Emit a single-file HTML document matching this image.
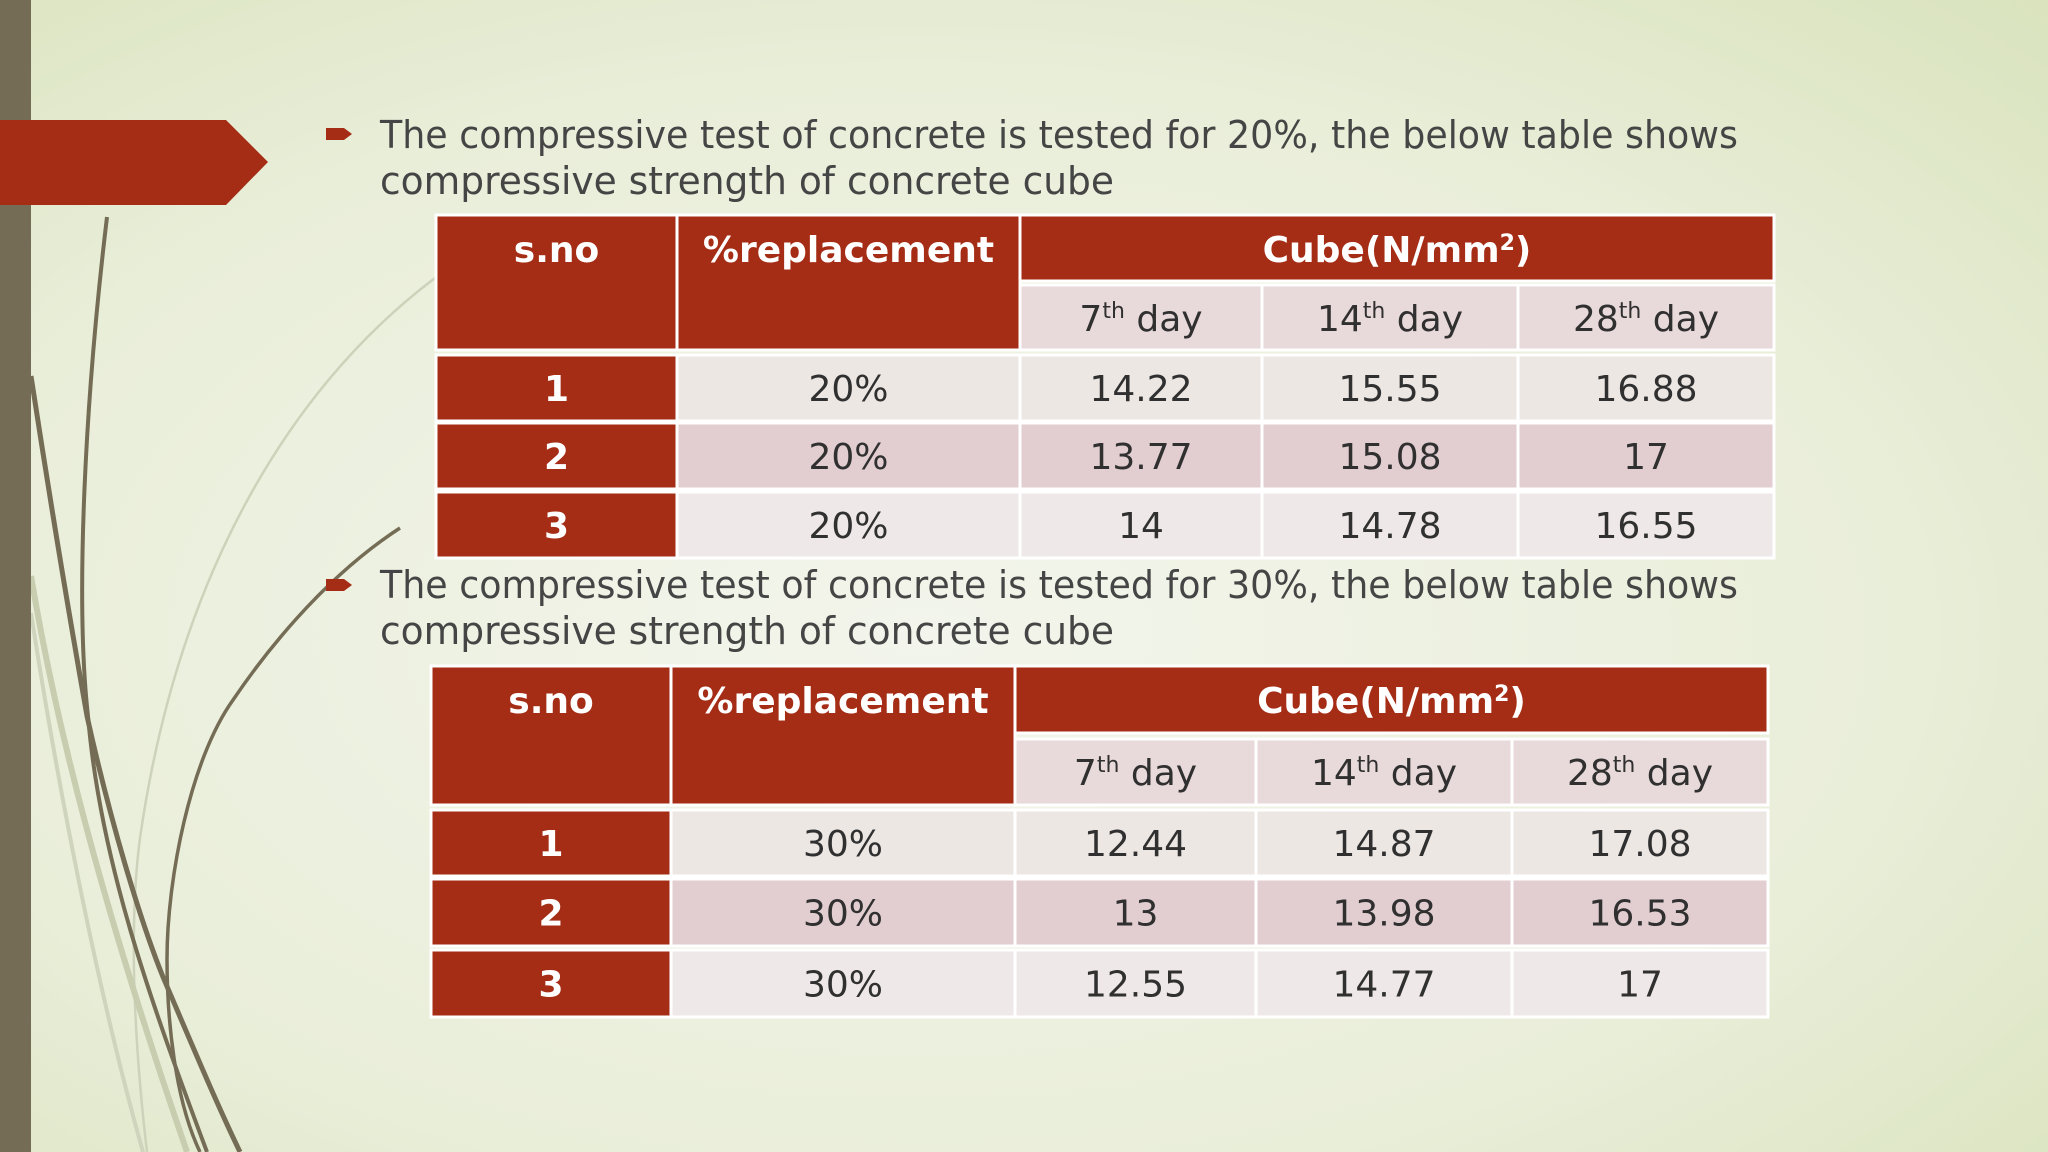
<!DOCTYPE html>
<html><head><meta charset="utf-8"><style>
html,body{margin:0;padding:0;width:2048px;height:1152px;overflow:hidden}
svg text{font-family:"DejaVu Sans","Liberation Sans",sans-serif}
</style></head><body>
<svg width="2048" height="1152" viewBox="0 0 2048 1152" xmlns="http://www.w3.org/2000/svg">
<defs>
<radialGradient id="bg" cx="0.45" cy="0.55" r="0.8">
<stop offset="0" stop-color="#f3f5ec"/><stop offset="0.6" stop-color="#e9eed9"/><stop offset="1" stop-color="#d8e2bb"/>
</radialGradient>
</defs>
<rect width="2048" height="1152" fill="url(#bg)"/>
<g fill="none">
<path d="M435,278 C300,380 180,560 140,838 C128,930 135,1050 147,1152" stroke="#cdd3ba" stroke-width="2.5"/>
<path d="M31,576 C55,720 100,900 187,1152" stroke="#c7cdae" stroke-width="6"/>
<path d="M31,613 C60,800 100,1000 143,1152" stroke="#cfd4bc" stroke-width="4"/>
<path d="M107,217 C85,400 75,600 88,716 C100,860 150,1000 207,1152" stroke="#756c55" stroke-width="4"/>
<path d="M31,376 C50,500 70,620 87,716 C110,820 140,920 163,977 C190,1040 215,1100 240,1152" stroke="#756c55" stroke-width="5"/>
<path d="M400,528 C320,580 260,660 233,700 C190,760 167,880 167,959 C167,1020 175,1100 200,1152" stroke="#756c55" stroke-width="3.5"/>
</g>
<rect x="0" y="0" width="31" height="1152" fill="#756c55"/>
<path d="M0,120 L226,120 L268,162 L226,205 L0,205 Z" fill="#a52c15"/>

<g>
<path d="M326,128 L344,128 L352,134 L344,140 L326,140 Z" fill="#a52c15"/>
<text x="380" y="148" font-size="38" fill="#454545" textLength="1358" lengthAdjust="spacingAndGlyphs">The compressive test of concrete is tested for 20%, the below table shows</text>
<text x="380" y="194" font-size="38" fill="#454545" textLength="734" lengthAdjust="spacingAndGlyphs">compressive strength of concrete cube</text>
</g>
<g>
<path d="M326,579 L344,579 L352,585 L344,591 L326,591 Z" fill="#a52c15"/>
<text x="380" y="598" font-size="38" fill="#454545" textLength="1358" lengthAdjust="spacingAndGlyphs">The compressive test of concrete is tested for 30%, the below table shows</text>
<text x="380" y="644" font-size="38" fill="#454545" textLength="734" lengthAdjust="spacingAndGlyphs">compressive strength of concrete cube</text>
</g>
<g id="t1"></g>
<g id="t2"></g>
</svg>
<script>
const pct1 = ['20%','20%','20%'];
const d7_1 = ['14.22','13.77','14'];
const d14_1 = ['15.55','15.08','14.78'];
const d28_1 = ['16.88','17','16.55'];
const pct2 = ['30%','30%','30%'];
const d7_2 = ['12.44','13','12.55'];
const d14_2 = ['14.87','13.98','14.77'];
const d28_2 = ['17.08','16.53','17'];

const NS='http://www.w3.org/2000/svg';
function rect(g,x,y,w,h,fill){const r=document.createElementNS(NS,'rect');r.setAttribute('x',x);r.setAttribute('y',y);r.setAttribute('width',w);r.setAttribute('height',h);r.setAttribute('fill',fill);r.setAttribute('stroke','#fff');r.setAttribute('stroke-width','3');


g.appendChild(r);}
function txt(g,x,y,s,col,bold,sup){const t=document.createElementNS(NS,'text');t.setAttribute('x',x);t.setAttribute('y',y);t.setAttribute('text-anchor','middle');t.setAttribute('font-size','36');t.setAttribute('fill',col);if(bold)t.setAttribute('font-weight','bold');
if(sup){t.innerHTML=sup;}else t.textContent=s;


g.appendChild(t);}
function table(id,cols,top,hdrH,subTop,subH,rows,pct,a,b,c){
 const g=document.getElementById(id);
 const red='#a52c15', dark='#303030';
 const rowFill=['#ede7e4','#e2ced1','#efe8e8'];
 rect(g,cols[0],top,cols[1]-cols[0],subTop+subH-top,red);
 rect(g,cols[1],top,cols[2]-cols[1],subTop+subH-top,red);
 rect(g,cols[2],top,cols[5]-cols[2],hdrH,red);
 txt(g,(cols[0]+cols[1])/2,top+47,'s.no','#fff',true);
 txt(g,(cols[1]+cols[2])/2,top+47,'%replacement','#fff',true);
 txt(g,(cols[2]+cols[5])/2,top+47,'','#fff',true,'Cube(N/mm<tspan font-size="22" dy="-12">2</tspan><tspan dy="12">)</tspan>');
 const sub=['7','14','28'];
 for(let i=0;i<3;i++){rect(g,cols[2+i],subTop,cols[3+i]-cols[2+i],subH,'#e8d9da');
  txt(g,(cols[2+i]+cols[3+i])/2,subTop+46,'',dark,false,sub[i]+'<tspan font-size="22" dy="-13">th</tspan><tspan dy="13"> day</tspan>');}
 for(let r=0;r<3;r++){const y=rows[r][0],h=rows[r][1]-rows[r][0];
  rect(g,cols[0],y,cols[1]-cols[0],h,red);
  txt(g,(cols[0]+cols[1])/2,y+h/2+13,String(r+1),'#fff',true);
  const vals=[pct[r],a[r],b[r],c[r]];
  for(let k=0;k<4;k++){rect(g,cols[1+k],y,cols[2+k]-cols[1+k],h,rowFill[r]);
   txt(g,(cols[1+k]+cols[2+k])/2,y+h/2+13,vals[k],dark,false);}
 }
}
table('t1',[436,677,1020,1262,1518,1774],215,66,285,65,[[355,421],[423,489],[492,558]],pct1,d7_1,d14_1,d28_1);
table('t2',[431,671,1015,1256,1512,1768],666,67,739,66,[[810,876],[879,946],[950,1017]],pct2,d7_2,d14_2,d28_2);
</script>
</body></html>
